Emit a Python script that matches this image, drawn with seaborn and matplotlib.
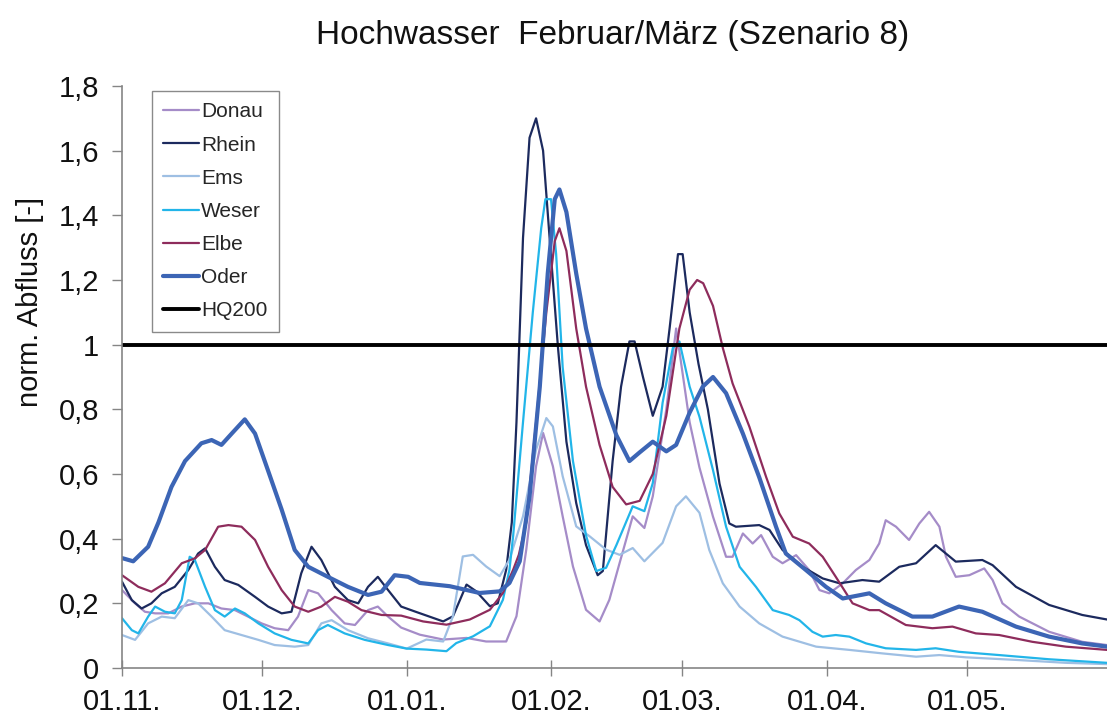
import matplotlib
matplotlib.use("Agg")
import matplotlib.pyplot as plt
import seaborn as sns

# ---------------- data (day 0 = 01.11.) ----------------
donau_days = [0, 2.8, 4.9, 7.1, 9.9, 12.8, 15.6, 18.5, 21.3, 24.2, 27, 29.9, 32.7, 35.6, 37.7, 39.9,
              42, 44.9, 47.7, 49.9, 52.7, 54.8, 57, 59.8, 63.8, 68.8, 73.8, 78, 82.3, 84.5, 86.6,
              88.7, 90.2, 92.3, 94.4, 96.6, 99.4, 102.3, 104.4, 106.6, 109.4, 111.9, 113.7, 116.6,
              118.7, 121.6, 123.7, 126.6, 129.4, 130.8, 133, 135.1, 136.9, 139.4, 141.5, 144.4,
              147.2, 149.4, 151.5, 154.4, 157.2, 160.1, 162.2, 163.6, 165.8, 168.6, 170.8, 172.9,
              175.1, 176.5, 178.6, 181.5, 184.7, 186.5, 188.6, 192.2, 198.6, 205.7, 211]
donau_values = [0.241, 0.20, 0.174, 0.169, 0.169, 0.19, 0.20, 0.20, 0.184, 0.179, 0.159, 0.138, 0.123,
                0.117, 0.159, 0.241, 0.231, 0.179, 0.138, 0.133, 0.179, 0.19, 0.159, 0.125, 0.103,
                0.088, 0.093, 0.082, 0.082, 0.16, 0.366, 0.624, 0.727, 0.624, 0.469, 0.314, 0.18,
                0.144, 0.211, 0.325, 0.469, 0.433, 0.531, 0.80, 1.05, 0.76, 0.62, 0.468, 0.344,
                0.344, 0.416, 0.385, 0.411, 0.344, 0.324, 0.349, 0.303, 0.241, 0.231, 0.262, 0.303,
                0.334, 0.385, 0.457, 0.437, 0.396, 0.447, 0.483, 0.437, 0.344, 0.282, 0.287, 0.308,
                0.272, 0.20, 0.159, 0.112, 0.081, 0.071]

rhein_days = [0, 2.1, 4.2, 6.3, 8.5, 11.3, 14.2, 16.3, 17.8, 19.9, 22, 24.9, 28.5, 31.3, 34.2, 36.3,
              38.4, 40.6, 42.7, 45.6, 48.4, 50.6, 52.7, 54.8, 57, 59.8, 62.7, 68.8, 70.9, 73.8, 75.9,
              78.8, 80.5, 82.3, 83.5, 84.5, 85.9, 87.3, 88.7, 90.2, 91.6, 93.4, 95.2, 97.3, 99.4,
              101.9, 103, 105.1, 106.9, 108.7, 109.8, 111.6, 113.7, 115.8, 117.3, 119.1, 120.1,
              121.6, 123.5, 125.5, 128, 130.1, 131.5, 136.5, 138.7, 141.5, 145.8, 150.1, 153.7,
              158.6, 162.2, 166.5, 170.1, 174.3, 178.6, 184.3, 186.5, 191.5, 198.6, 205.7, 211]
rhein_values = [0.267, 0.21, 0.184, 0.20, 0.231, 0.251, 0.303, 0.354, 0.37, 0.313, 0.272, 0.257, 0.22,
                0.19, 0.169, 0.174, 0.293, 0.375, 0.334, 0.251, 0.21, 0.20, 0.251, 0.282, 0.241,
                0.19, 0.175, 0.144, 0.16, 0.258, 0.237, 0.191, 0.20, 0.304, 0.45, 0.76, 1.33, 1.64,
                1.70, 1.60, 1.33, 0.99, 0.70, 0.51, 0.38, 0.287, 0.30, 0.64, 0.87, 1.01, 1.01, 0.90,
                0.78, 0.87, 1.05, 1.28, 1.28, 1.10, 0.94, 0.80, 0.57, 0.447, 0.437, 0.442, 0.427,
                0.365, 0.313, 0.277, 0.262, 0.272, 0.267, 0.313, 0.324, 0.38, 0.329, 0.334, 0.318,
                0.251, 0.195, 0.164, 0.15]

ems_days = [0, 2.8, 5.6, 8.5, 11.3, 14.2, 16.3, 19.2, 22, 25.6, 29.2, 32.7, 37, 39.9, 42.7, 44.9, 48.4,
            52.7, 57, 61, 65.2, 68.8, 70.9, 73, 75.2, 78, 80.9, 83, 85.9, 88.7, 90.9, 92.3, 94.4,
            97.3, 100.2, 103.7, 106.6, 109.4, 111.9, 115.8, 118.7, 120.8, 123.7, 125.8, 128.7,
            132.3, 136.5, 141.5, 148.7, 155.8, 163, 170.1, 175.1, 180.8, 191.5, 202.2, 211]
ems_values = [0.102, 0.087, 0.138, 0.159, 0.154, 0.21, 0.20, 0.159, 0.117, 0.102, 0.087, 0.071, 0.066,
              0.071, 0.138, 0.148, 0.117, 0.092, 0.076, 0.06, 0.088, 0.082, 0.16, 0.345, 0.35, 0.314,
              0.284, 0.335, 0.469, 0.675, 0.773, 0.747, 0.593, 0.438, 0.407, 0.366, 0.35, 0.371,
              0.33, 0.387, 0.50, 0.531, 0.48, 0.365, 0.262, 0.19, 0.138, 0.097, 0.066, 0.056, 0.045,
              0.035, 0.04, 0.033, 0.025, 0.016, 0.012]

weser_days = [0, 2.1, 3.5, 5.6, 7.1, 9.2, 11.3, 12.8, 14.5, 15.6, 17.8, 19.9, 22, 24.2, 26.3, 29.2,
              32.7, 36.3, 39.9, 42, 44.1, 47.7, 52, 57, 61, 65.2, 69.5, 71.6, 75.2, 78.8, 81.6, 83,
              83.8, 85.9, 88, 89.8, 90.7, 91.9, 93, 94.4, 96.6, 99.4, 101.6, 103.7, 105.9, 109.4,
              111.9, 113.7, 115.8, 118, 119.4, 121.6, 123.7, 126.6, 129.4, 132.3, 135.8, 139.4,
              142.9, 145.1, 147.9, 150.1, 152.9, 155.8, 159.4, 163.6, 170.1, 174.3, 179.3, 187.9,
              198.6, 211]
weser_values = [0.154, 0.117, 0.107, 0.159, 0.19, 0.174, 0.169, 0.21, 0.344, 0.334, 0.251, 0.179,
                0.159, 0.184, 0.169, 0.138, 0.107, 0.087, 0.076, 0.117, 0.133, 0.107, 0.087, 0.071,
                0.06, 0.057, 0.052, 0.077, 0.098, 0.129, 0.211, 0.304, 0.41, 0.76, 1.10, 1.36, 1.45,
                1.45, 1.28, 0.93, 0.64, 0.41, 0.30, 0.31, 0.38, 0.50, 0.485, 0.572, 0.82, 0.99, 1.01,
                0.87, 0.777, 0.612, 0.437, 0.313, 0.251, 0.179, 0.164, 0.148, 0.112, 0.097, 0.102,
                0.097, 0.076, 0.061, 0.056, 0.061, 0.05, 0.04, 0.027, 0.016]

elbe_days = [0, 3.5, 6.3, 9.2, 12.8, 15.6, 17.8, 20.6, 22.8, 25.6, 28.5, 31.3, 34.2, 37, 39.9, 42.7,
             45.6, 48.4, 51.3, 55.6, 59.8, 64.5, 69.5, 74.5, 78.8, 81.6, 83.8, 85, 86.6, 88.7, 90.9,
             92.7, 93.7, 95.2, 97.3, 99.4, 102.3, 105.1, 108, 110.9, 113.7, 116.6, 119.4, 121.6,
             123.2, 124.5, 126.6, 128.7, 130.8, 134.4, 138, 140.8, 143.7, 147.2, 150.1, 152.9,
             156.5, 160.1, 162.2, 167.9, 173.6, 177.9, 182.9, 187.9, 195, 202.2, 211]
elbe_values = [0.287, 0.251, 0.236, 0.262, 0.324, 0.339, 0.365, 0.437, 0.442, 0.437, 0.396, 0.313,
               0.241, 0.19, 0.174, 0.19, 0.22, 0.205, 0.179, 0.164, 0.162, 0.144, 0.134, 0.15, 0.18,
               0.232, 0.304, 0.35, 0.45, 0.76, 1.10, 1.32, 1.36, 1.29, 1.05, 0.87, 0.69, 0.56,
               0.506, 0.517, 0.60, 0.78, 1.05, 1.17, 1.20, 1.19, 1.12, 0.99, 0.88, 0.746, 0.59,
               0.478, 0.406, 0.385, 0.344, 0.282, 0.20, 0.179, 0.179, 0.133, 0.123, 0.128, 0.107,
               0.102, 0.081, 0.066, 0.056]

oder_days = [0, 2.4, 5.6, 7.8, 10.6, 13.5, 17, 19.2, 21.3, 23.5, 26.3, 28.5, 31.3, 34.2, 37, 39.9,
             44.1, 48.4, 52.7, 55.6, 58.4, 61.3, 63.8, 70.2, 76.6, 80.9, 83, 85.2, 87.3, 89.5, 91.2,
             92.7, 93.7, 95.2, 97.3, 99.4, 102.3, 105.9, 108.7, 110.9, 113.7, 116.6, 118.7, 121.6,
             124.4, 126.6, 129.4, 133, 136.5, 140.1, 142.2, 146.5, 150.8, 154.4, 160.1, 163.6,
             169.3, 173.6, 179.3, 184.3, 191.5, 198.6, 205.7, 211]
oder_values = [0.34, 0.33, 0.375, 0.45, 0.56, 0.64, 0.695, 0.705, 0.69, 0.725, 0.769, 0.725, 0.61,
               0.49, 0.365, 0.313, 0.282, 0.251, 0.226, 0.236, 0.287, 0.282, 0.263, 0.253, 0.232,
               0.237, 0.263, 0.33, 0.53, 0.87, 1.22, 1.45, 1.48, 1.41, 1.22, 1.05, 0.87, 0.72, 0.64,
               0.667, 0.70, 0.67, 0.69, 0.79, 0.87, 0.90, 0.85, 0.725, 0.59, 0.437, 0.354, 0.303,
               0.251, 0.215, 0.231, 0.20, 0.159, 0.159, 0.19, 0.174, 0.128, 0.097, 0.076, 0.066]

hq200_days = [0, 211]
hq200_values = [1.0, 1.0]

x_tick_days = [0, 30, 61, 92, 120, 151, 181]
x_tick_labels = ["01.11.", "01.12.", "01.01.", "01.02.", "01.03.", "01.04.", "01.05."]
y_ticks = [0, 0.2, 0.4, 0.6, 0.8, 1.0, 1.2, 1.4, 1.6, 1.8]
y_tick_labels = ["0", "0,2", "0,4", "0,6", "0,8", "1", "1,2", "1,4", "1,6", "1,8"]

title = "Hochwasser  Februar/März (Szenario 8)"
y_label = "norm. Abfluss [-]"

# ---------------- style ----------------
sns.set_style("white")
plt.rcParams['font.family'] = ['Liberation Sans', 'DejaVu Sans']

W, H = 1107, 718
fig = plt.figure(figsize=(W / 100, H / 100), dpi=100)
ax_left, ax_right, ax_top, ax_bottom = 122, 1107, 86, 668
ax = fig.add_axes([ax_left / W, 1 - ax_bottom / H, (ax_right - ax_left) / W, (ax_bottom - ax_top) / H])

series = [
    ("Donau", donau_days, donau_values, "#a58cc8", 1.6),
    ("Rhein", rhein_days, rhein_values, "#1c2a5e", 1.6),
    ("Ems", ems_days, ems_values, "#9ebfe3", 1.6),
    ("Weser", weser_days, weser_values, "#22b5e9", 1.6),
    ("Elbe", elbe_days, elbe_values, "#8e2c5c", 1.6),
    ("Oder", oder_days, oder_values, "#3c65b5", 3.0),
    ("HQ200", hq200_days, hq200_values, "#000000", 2.8),
]

for name, d, v, c, lw in series:
    sns.lineplot(x=d, y=v, ax=ax, color=c, linewidth=lw, label=name,
                 estimator=None, sort=False, solid_joinstyle="round",
                 solid_capstyle="round")

ax.set_xlim(0, 211)
ax.set_ylim(0, 1.8)
ax.set_xticks(x_tick_days)
ax.set_xticklabels(x_tick_labels)
ax.set_yticks(y_ticks)
ax.set_yticklabels(y_tick_labels)
ax.set_xlabel("")
ax.set_ylabel("")

for s in ["top", "right"]:
    ax.spines[s].set_visible(False)
for s in ["left", "bottom"]:
    ax.spines[s].set_color("#858585")
    ax.spines[s].set_linewidth(1.2)

ax.tick_params(axis="x", direction="inout", length=11, width=1, color="#858585",
               pad=9, labelsize=21, labelcolor="#111111")
ax.tick_params(axis="y", direction="out", length=7, width=1, color="#858585",
               pad=9.5, labelsize=21, labelcolor="#111111")
ax.tick_params(bottom=True, left=True)

handles, labels = ax.get_legend_handles_labels()
leg = ax.legend(handles, labels, loc="upper left",
                bbox_to_anchor=((152 - ax_left) / (ax_right - ax_left),
                                (ax_bottom - 91) / (ax_bottom - ax_top)),
                borderaxespad=0, frameon=True, fancybox=False, framealpha=1,
                edgecolor="#8a8a8a", fontsize=15, handlelength=1.7,
                handletextpad=0.1, labelspacing=0.68, borderpad=0.55)
leg.get_frame().set_linewidth(1.0)

fig.text(613 / W, 1 - 44 / H, title, ha="center", va="baseline", fontsize=24, color="#111111")
fig.text(30 / W, 1 - 302 / H, y_label, ha="center", va="center", rotation=90,
         fontsize=21, color="#111111")

fig.savefig("out.png", dpi=100)
